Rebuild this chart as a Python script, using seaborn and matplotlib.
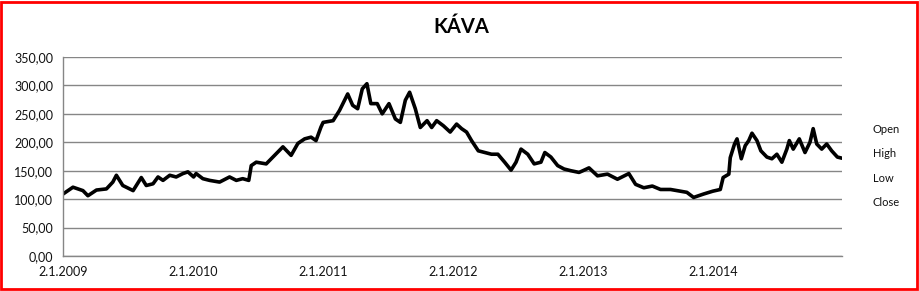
import matplotlib
matplotlib.use("Agg")
import matplotlib.pyplot as plt
import seaborn as sns
import pandas as pd
from matplotlib.lines import Line2D
from matplotlib.patches import Rectangle

title = "KÁVA"
legend_labels = ["Open", "High", "Low", "Close"]

dates = [
    "2009-01-02", "2009-01-30", "2009-02-27", "2009-03-13", "2009-04-06", "2009-05-04",
    "2009-05-22", "2009-06-01", "2009-06-19", "2009-07-18", "2009-08-10", "2009-08-24",
    "2009-09-12", "2009-09-26", "2009-10-10", "2009-10-29", "2009-11-16", "2009-12-05",
    "2009-12-19",
    "2010-01-04", "2010-01-11", "2010-01-30", "2010-02-18", "2010-03-18", "2010-04-15",
    "2010-05-04", "2010-05-22", "2010-06-08", "2010-06-15", "2010-06-29", "2010-07-27",
    "2010-08-24", "2010-09-12", "2010-10-05", "2010-10-24", "2010-11-12", "2010-11-30",
    "2010-12-14", "2010-12-28",
    "2011-01-03", "2011-01-31", "2011-02-18", "2011-03-13", "2011-03-27", "2011-04-10",
    "2011-04-23", "2011-05-06", "2011-05-17", "2011-06-04", "2011-06-18", "2011-07-07",
    "2011-07-25", "2011-08-08", "2011-08-22", "2011-09-03", "2011-09-19", "2011-10-03",
    "2011-10-22", "2011-11-04", "2011-11-18", "2011-12-07", "2011-12-26",
    "2012-01-13", "2012-01-27", "2012-02-10", "2012-02-24", "2012-03-14", "2012-04-01",
    "2012-04-20", "2012-05-08", "2012-05-27", "2012-06-14", "2012-06-28", "2012-07-12",
    "2012-07-31", "2012-08-18", "2012-09-06", "2012-09-17", "2012-10-04", "2012-10-23",
    "2012-11-10", "2012-11-29", "2012-12-22",
    "2013-01-02", "2013-01-19", "2013-02-12", "2013-03-12", "2013-04-09", "2013-05-11",
    "2013-05-30", "2013-06-22", "2013-07-16", "2013-08-08", "2013-09-05", "2013-10-03",
    "2013-10-21", "2013-11-09", "2013-12-07",
    "2014-01-02", "2014-01-23", "2014-01-31", "2014-02-16", "2014-02-20", "2014-03-04",
    "2014-03-11", "2014-03-23", "2014-04-03", "2014-04-13", "2014-04-22", "2014-05-06",
    "2014-05-17", "2014-06-03", "2014-06-17", "2014-07-01", "2014-07-15", "2014-07-29",
    "2014-08-05", "2014-08-16", "2014-09-02", "2014-09-18", "2014-10-02", "2014-10-11",
    "2014-10-21", "2014-11-04", "2014-11-18", "2014-12-02", "2014-12-18", "2014-12-31",
]

close = [
    109, 121, 115, 106, 116, 118, 130, 142, 124, 115, 138, 124, 127, 139, 133, 142, 139, 145, 148,
    139, 145, 136, 133, 130, 139, 133, 136, 133, 159, 165, 162, 180, 192, 177, 198, 206, 209, 203, 227,
    235, 238, 256, 285, 265, 259, 294, 303, 268, 268, 250, 268, 241, 235, 274, 288, 259, 226,
    238, 226, 238, 229, 218,
    232, 224, 218, 203, 185, 182, 179, 179, 165, 151, 165, 188, 179, 162, 165, 182, 174, 159,
    153, 150, 147,
    150, 155, 141, 144, 135, 145, 126, 120, 123, 117, 117, 114, 112, 103, 109,
    114, 117, 138, 144, 173, 197, 206, 171, 194, 203, 216, 203, 185, 174, 171, 179, 165, 188,
    203, 188, 206, 182, 200, 224, 197, 188, 197, 185, 174, 172,
]

years = [2009, 2010, 2011, 2012, 2013, 2014]
y_ticks = [0, 50, 100, 150, 200, 250, 300, 350]

df = pd.DataFrame({"date": pd.to_datetime(dates), "close": close})

sns.set_theme(style="white")
plt.rcParams["font.family"] = ["Lato", "DejaVu Sans"]

fig = plt.figure(figsize=(9.2, 2.91), dpi=100)
ax = fig.add_axes([63 / 920, 1 - 256 / 291, (842 - 63) / 920, (256 - 57) / 291])

sns.lineplot(data=df, x="date", y="close", ax=ax, color="black", linewidth=2.6)

ax.set_ylim(0, 350)
ax.set_yticks(y_ticks)
ax.set_yticklabels([f"{v:.2f}".replace(".", ",") for v in y_ticks], fontsize=9, color="#111111")
xt = [pd.Timestamp(f"{y}-01-02") for y in years]
ax.set_xticks(xt)
ax.set_xticklabels([f"2.1.{y}" for y in years], fontsize=9, color="#111111")
ax.set_xlim(pd.Timestamp("2009-01-02"), pd.Timestamp("2014-12-31"))
ax.set_xlabel("")
ax.set_ylabel("")

ax.grid(axis="y", color="#868686", linewidth=1.0)
ax.grid(axis="x", visible=False)
ax.set_axisbelow(True)
for s in ["top", "right"]:
    ax.spines[s].set_visible(False)
for s in ["left", "bottom"]:
    ax.spines[s].set_color("#868686")
    ax.spines[s].set_linewidth(1.0)
ax.tick_params(axis="both", which="both", direction="out", length=4, width=1,
               color="#868686", pad=3)

fig.text(461 / 920, 1 - 27 / 291, title, ha="center", va="center",
         fontsize=14.5, fontweight="bold", color="black")

handles = [Line2D([], [], linestyle="none") for _ in legend_labels]
fig.legend(handles, legend_labels, loc="center left",
           bbox_to_anchor=(863 / 920, 1 - 166 / 291), frameon=False,
           handlelength=0, handletextpad=0, fontsize=8, labelspacing=1.2,
           labelcolor="#111111")

fig.patches.append(Rectangle((1 / 920, 2 / 291), 916 / 920, 287 / 291,
                             transform=fig.transFigure, fill=False,
                             edgecolor="#ff0000", linewidth=2))

fig.savefig("out.png", dpi=100)
